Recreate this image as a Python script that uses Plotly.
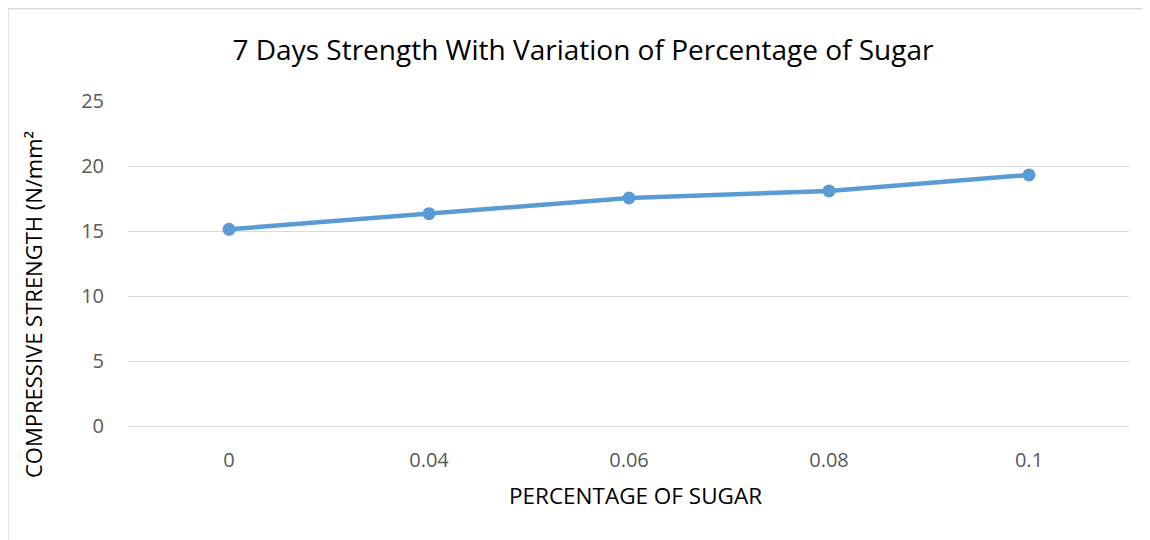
import plotly.graph_objects as go

categories = ["0", "0.04", "0.06", "0.08", "0.1"]
strength = [15.13, 16.33, 17.54, 18.08, 19.31]
y_ticks = [0, 5, 10, 15, 20, 25]

title_text = "7 Days Strength With Variation of Percentage of Sugar"
x_title = "PERCENTAGE OF SUGAR"
y_title = "COMPRESSIVE STRENGTH (N/mm²"

W, H = 1142, 532
L, R, T, B = 121, 21, 93, 114
PW, PH = W - L - R, H - T - B

fig = go.Figure()
fig.add_trace(go.Scatter(
    x=categories, y=strength, mode="lines+markers",
    line=dict(color="#5B9BD5", width=4.5),
    marker=dict(color="#5B9BD5", size=13),
    showlegend=False, cliponaxis=False,
))

font_family = "Open Sans, Liberation Sans, sans-serif"

fx0 = (0.0 - L) / PW
fy1 = 1 + (T - 0.75) / PH

fig.update_layout(
    width=W, height=H,
    margin=dict(l=L, r=R, t=T, b=B),
    paper_bgcolor="white", plot_bgcolor="white",
    font=dict(family=font_family, color="#595959"),
    title=dict(text=title_text, x=575 / W, xanchor="center", y=1 - 42 / H, yanchor="middle",
               font=dict(size=28, color="#000000", family=font_family)),
    xaxis=dict(
        type="category", range=[-0.5, 4.5],
        showgrid=False, showline=False, zeroline=False,
        tickfont=dict(size=20, color="#595959"),
        ticks="", ticklabelstandoff=20,
    ),
    yaxis=dict(
        range=[0, 25], tickvals=y_ticks,
        showgrid=True, gridcolor="#D9D9D9", gridwidth=1.3,
        zeroline=True, zerolinecolor="#D9D9D9", zerolinewidth=1.3,
        showline=False,
        tickfont=dict(size=20, color="#595959"),
        ticks="", ticklabelstandoff=24,
    ),
    annotations=[
        dict(text=x_title, xref="paper", yref="paper",
             x=(627 - L) / PW, y=-(487 - (T + PH)) / PH,
             xanchor="center", yanchor="middle", showarrow=False,
             font=dict(size=22.5, color="#000000", family=font_family)),
        dict(text=y_title, xref="paper", yref="paper", textangle=-90,
             x=(25 - L) / PW, y=1 - (297 - T) / PH,
             xanchor="center", yanchor="middle", showarrow=False,
             font=dict(size=22, color="#000000", family=font_family)),
    ],
    shapes=[
        dict(type="line", xref="paper", yref="paper",
             x0=fx0, x1=1.3, y0=fy1, y1=fy1,
             line=dict(color="#D9D9D9", width=1.5), layer="below"),
        dict(type="line", xref="paper", yref="paper",
             x0=fx0, x1=fx0, y0=-0.6, y1=fy1,
             line=dict(color="#D9D9D9", width=1.5), layer="below"),
    ],
)

fig.write_html("out.html")
